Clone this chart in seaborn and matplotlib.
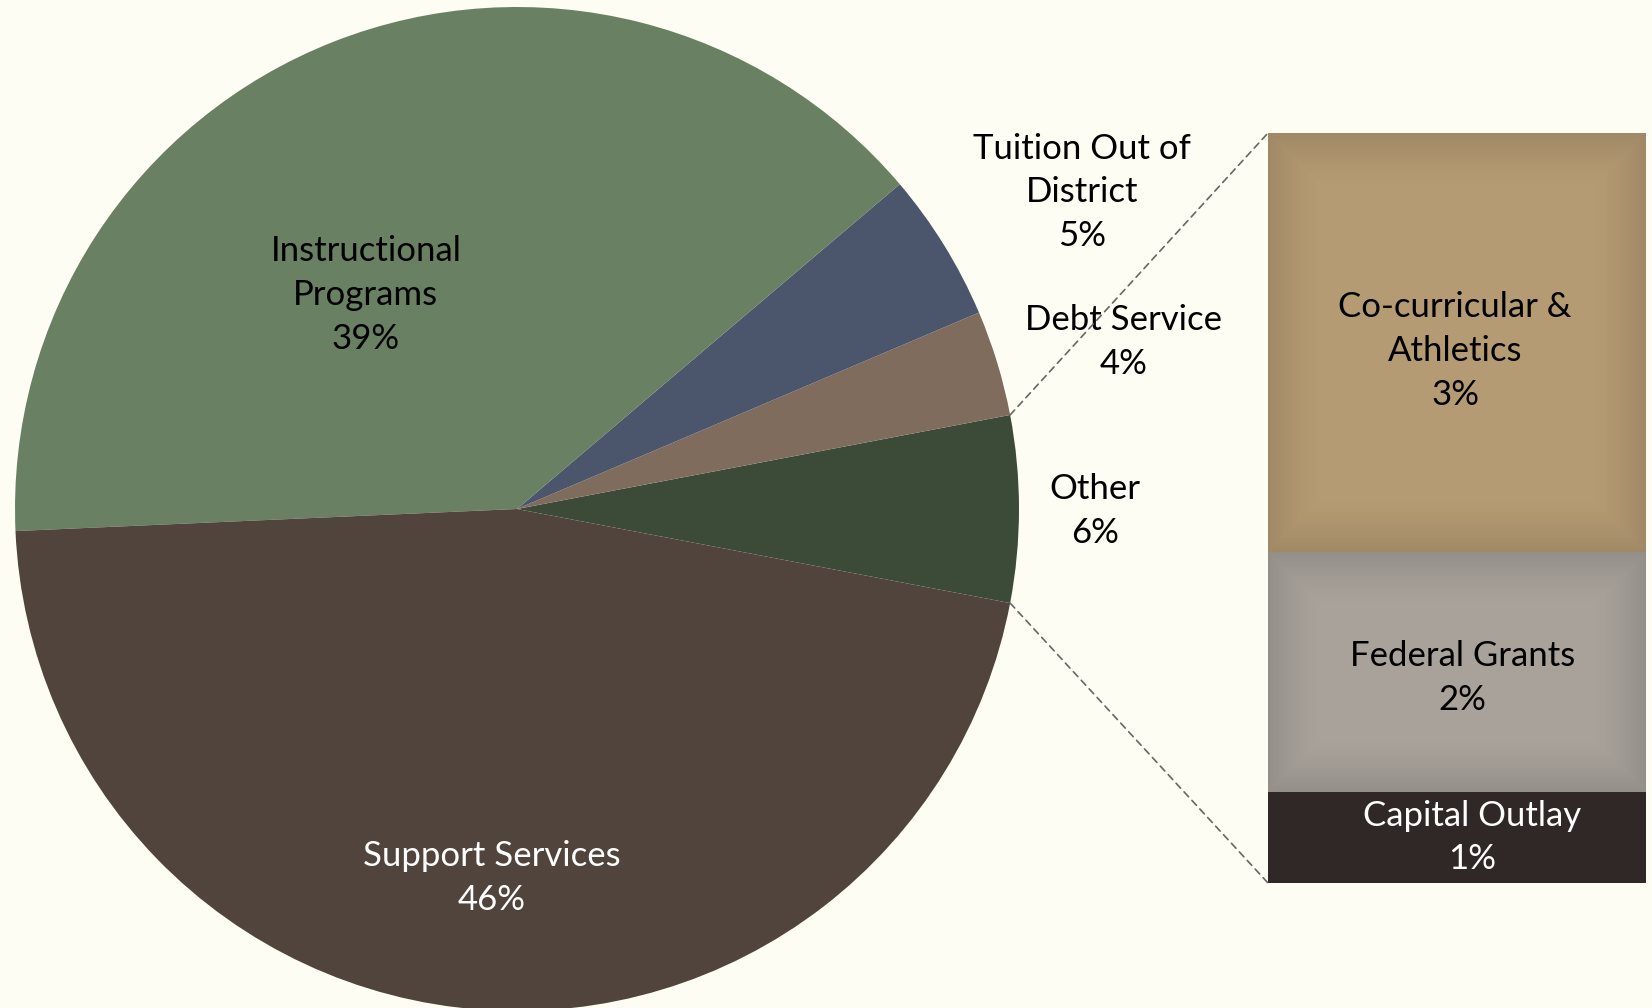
import matplotlib
matplotlib.use("Agg")
import numpy as np
import matplotlib.pyplot as plt
import seaborn as sns
from matplotlib.patches import ConnectionPatch

# ---- data ----
pie_labels = ["Other", "Debt Service", "Tuition Out of\nDistrict", "Instructional\nPrograms", "Support Services"]
pie_values = [6.0, 3.4, 4.8, 39.5, 46.3]
pie_pct = ["6%", "4%", "5%", "39%", "46%"]
bar_labels = ["Capital Outlay", "Federal Grants", "Co-curricular &\nAthletics"]
bar_values = [0.73, 1.92, 3.35]
bar_pct = ["1%", "2%", "3%"]

# ---- style ----
pie_colors = ["#3c4a38", "#806c5d", "#4b566c", "#6a8062", "#51443d"]
bar_colors = ["#302826", "#a8a29b", "#b59b73"]
pie_text_colors = ["black", "black", "black", "black", "white"]
bar_text_colors = ["white", "black", "black"]
pie_text_pos = [(1.151, -0.004), (1.209, 0.333), (1.125, 0.631), (-0.301, 0.426), (-0.050, -0.735)]
bar_text_dx = [0.04, 0.015, -0.005]
bar_text_dy = [0.0, -0.05, -0.07]
bar_vignette = [0.0, 0.12, 0.12]

sns.set_theme(style="white")
plt.rcParams['font.family'] = ['Lato', 'DejaVu Sans']

bg = "#fdfdf3"
W, H = 1652, 1008
fig = plt.figure(figsize=(W / 100, H / 100), dpi=100, facecolor=bg)

cx, cy, r = 517, 509, 502
ax = fig.add_axes([(cx - r) / W, (H - cy - r) / H, 2 * r / W, 2 * r / H])
ax.set_facecolor("none")
wedges, _ = ax.pie(pie_values, colors=pie_colors, startangle=-10.8, counterclock=True,
                   radius=1, wedgeprops=dict(linewidth=0))
ax.set_xlim(-1, 1)
ax.set_ylim(-1, 1)
ax.set_aspect('equal')
ax.axis('off')

FS = 25
LS = 1.45
for lab, pct, (tx, ty), tc in zip(pie_labels, pie_pct, pie_text_pos, pie_text_colors):
    ax.text(tx, ty, lab + "\n" + pct, ha='center', va='center', fontsize=FS,
            color=tc, linespacing=LS, clip_on=False)

# ---- bar of pie ----
bw_px, bh_px = 378, 750
ax2 = fig.add_axes([1268 / W, (H - 883) / H, bw_px / W, bh_px / H])
ax2.set_facecolor("none")
total = sum(bar_values)
bottom = 0.0
for v, c, lab, pct, tc, dx, dy, vg in zip(bar_values, bar_colors, bar_labels, bar_pct,
                                          bar_text_colors, bar_text_dx, bar_text_dy, bar_vignette):
    bars = ax2.bar(0, v, bottom=bottom, width=1.0, color=c, linewidth=0)
    if vg > 0:
        patch = bars.patches[0]
        hpx = int(round(v / total * bh_px))
        yy, xx = np.mgrid[0:hpx, 0:bw_px]
        d = np.minimum.reduce([xx, bw_px - 1 - xx, yy, hpx - 1 - yy]).astype(float)
        a = vg * np.clip(1 - d / 55.0, 0, 1) ** 1.5
        rgba = np.zeros((hpx, bw_px, 4))
        rgba[..., 3] = a
        im = ax2.imshow(rgba, extent=(-0.5, 0.5, bottom, bottom + v), aspect='auto',
                        interpolation='bilinear', zorder=2)
        im.set_clip_path(patch)
    ax2.text(dx, bottom + v / 2 + dy, lab + "\n" + pct, ha='center', va='center',
             fontsize=FS, color=tc, linespacing=LS, zorder=3)
    bottom += v
ax2.set_xlim(-0.5, 0.5)
ax2.set_ylim(0, total)
ax2.axis('off')

# ---- connectors ----
w0 = wedges[0]
for ang, yb in [(w0.theta2, total), (w0.theta1, 0)]:
    t = np.deg2rad(ang)
    con = ConnectionPatch(xyA=(np.cos(t), np.sin(t)), coordsA=ax.transData,
                          xyB=(-0.5, yb), coordsB=ax2.transData,
                          linestyle=(0, (4, 3)), color="#666666", linewidth=1.2)
    fig.add_artist(con)

fig.savefig("out.png", dpi=100, facecolor=bg)
